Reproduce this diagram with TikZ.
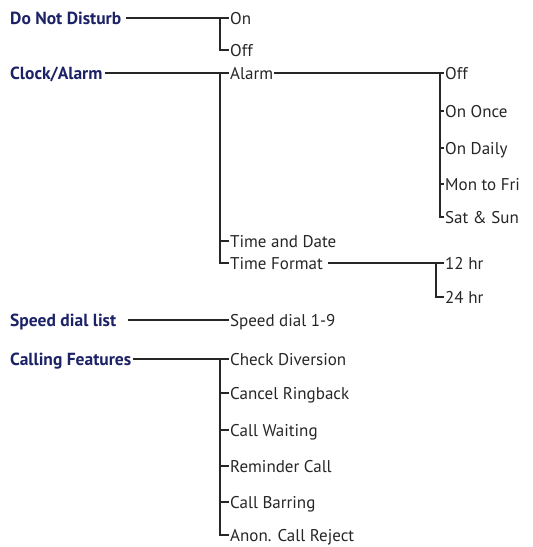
\documentclass[tikz,border=0pt]{standalone}
\usepackage{fontspec}
\setmainfont{PT Sans}
\definecolor{navy}{HTML}{1C2266}
\definecolor{ink}{HTML}{262626}
\begin{document}
\begin{tikzpicture}[x=1pt,y=-1pt,
  title/.style={anchor=west, font=\bfseries\fontsize{17.5}{20}\selectfont, text=navy, inner xsep=2pt, inner ysep=0pt, text height=12pt, text depth=0pt},
  item/.style={anchor=west, font=\fontsize{17}{20}\selectfont, text=ink, inner xsep=1pt, inner ysep=0pt, text height=12pt, text depth=0pt},
  link/.style={draw=ink, line width=1.15pt}]
\useasboundingbox (0,0) rectangle (533,547);

% Do Not Disturb
\node[title] (dnd) at (8,18) {Do Not Disturb};
\node[item] (on) at (229,18) {On};
\node[item] (off) at (229,50) {Off};
\coordinate (jd) at (220,18);
\draw[link] ([xshift=3pt]dnd.east) -- (on.west);
\draw[link] (jd) |- (off.west);

% Clock/Alarm
\node[title] (clk) at (8,73) {Clock/Alarm};
\node[item] (alarm) at (229,73) {Alarm};
\node[item] (td) at (229,241) {Time and Date};
\node[item] (tf) at (229,263) {Time Format};
\coordinate (jc) at (220,73);
\draw[link] (clk.east) -- (alarm.west);
\draw[link] (jc) |- (tf.west);
\draw[link] (jc |- td.west) -- (td.west);

% Alarm options
\node[item] (aoff) at (444,73) {Off};
\node[item] (once) at (444,111) {On Once};
\node[item] (daily) at (444,148) {On Daily};
\node[item] (monfri) at (444,184) {Mon to Fri};
\node[item] (satsun) at (444,217) {Sat \& Sun};
\coordinate (ja) at (440,73);
\draw[link] (alarm.east) -- (aoff.west);
\draw[link] (ja) |- (satsun.west);
\draw[link] (ja |- once.west) -- (once.west);
\draw[link] (ja |- daily.west) -- (daily.west);
\draw[link] (ja |- monfri.west) -- (monfri.west);

% Time Format options
\node[item] (h12) at (444,263) {12 hr};
\node[item] (h24) at (444,297) {24 hr};
\coordinate (jt) at (436,263);
\draw[link] ([xshift=4pt]tf.east) -- (h12.west);
\draw[link] (jt) |- (h24.west);

% Speed dial list
\node[title] (sdl) at (8,320) {Speed dial list};
\node[item] (sd) at (229,320) {Speed dial 1-9};
\draw[link] ([xshift=10pt]sdl.east) -- (sd.west);

% Calling Features
\node[title] (cf) at (8,359) {Calling Features};
\node[item] (chk) at (229,359) {Check Diversion};
\node[item] (crb) at (229,393) {Cancel Ringback};
\node[item] (cw) at (229,430) {Call Waiting};
\node[item] (rc) at (229,466) {Reminder Call};
\node[item] (cb) at (229,502) {Call Barring};
\node[item] (acr) at (229,535) {Anon. Call Reject};
\coordinate (jf) at (220,359);
\draw[link] (cf.east) -- (chk.west);
\draw[link] (jf) |- (acr.west);
\draw[link] (jf |- crb.west) -- (crb.west);
\draw[link] (jf |- cw.west) -- (cw.west);
\draw[link] (jf |- rc.west) -- (rc.west);
\draw[link] (jf |- cb.west) -- (cb.west);
\end{tikzpicture}
\end{document}
